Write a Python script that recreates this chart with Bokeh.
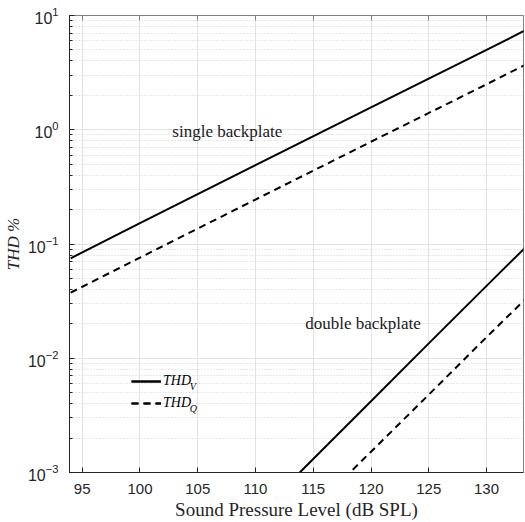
from bokeh.plotting import figure
from bokeh.models import (Range1d, LinearAxis, Legend, LegendItem, Label,
                          FixedTicker, LogTicker, CustomJSTickFormatter)
from bokeh.embed import file_html
from bokeh.resources import INLINE

# ---- data ----
spl_single = [94, 100, 110, 120, 130, 134]
thd_v_single = [0.075, 0.152, 0.49, 1.57, 5.0, 8.0]
thd_q_single = [0.0375, 0.076, 0.245, 0.785, 2.5, 4.0]

spl_double_v = [110, 114, 120, 125, 130, 134]
thd_v_double = [0.00042, 0.00104, 0.0042, 0.0135, 0.043, 0.108]
spl_double_q = [114, 118, 120, 125, 130, 134]
thd_q_double = [0.00038, 0.00096, 0.00152, 0.0048, 0.0153, 0.038]

x_ticks = [95, 100, 105, 110, 115, 120, 125, 130]
x_label = "Sound Pressure Level (dB SPL)"
y_label = "THD %"
legend_labels = ["THD", "THD"]
legend_subs = ["V", "Q"]
ann_single = "single backplate"
ann_double = "double backplate"

SERIF = "Liberation Serif"
SANS = "Liberation Sans"
AX = "#262626"
GRID = "#e3e3e3"

p = figure(width=524, height=522, output_backend="svg", toolbar_location=None,
           y_axis_type="log",
           x_range=Range1d(93.9, 133.2), y_range=Range1d(1e-3, 10),
           min_border_left=68, min_border_right=1, min_border_top=15,
           min_border_bottom=48)
p.background_fill_color = "white"
p.outline_line_color = "#808080"
p.outline_line_width = 1

# axes
xa = p.xaxis[0]
xa.ticker = FixedTicker(ticks=x_ticks)
xa.axis_label = x_label
xa.axis_label_text_font = SERIF
xa.axis_label_text_font_style = "normal"
xa.axis_label_text_font_size = "19px"
xa.axis_label_text_color = AX
xa.axis_label_standoff = 2
xa.major_label_text_font = SANS
xa.major_label_text_font_size = "15px"
xa.major_label_text_color = AX
xa.major_label_standoff = 11
xa.major_tick_in = 5
xa.major_tick_out = 0
xa.minor_tick_in = 0
xa.minor_tick_out = 0
xa.axis_line_color = AX
xa.major_tick_line_color = AX

ya = p.yaxis[0]
ya.ticker = LogTicker(desired_num_ticks=5, num_minor_ticks=10)
ya.axis_label = y_label
ya.axis_label_text_font = SERIF
ya.axis_label_text_font_style = "italic"
ya.axis_label_text_font_size = "17px"
ya.axis_label_text_color = AX
ya.axis_label_standoff = 2
ya.major_label_text_font = SANS
ya.major_label_text_font_size = "16px"
ya.major_label_text_color = AX
ya.major_label_standoff = 11
ya.major_tick_in = 5
ya.major_tick_out = 0
ya.minor_tick_in = 3
ya.minor_tick_out = 0
ya.axis_line_color = AX
ya.major_tick_line_color = AX
ya.minor_tick_line_color = AX

top = LinearAxis(ticker=FixedTicker(ticks=x_ticks),
                 formatter=CustomJSTickFormatter(code="return ''"),
                 major_label_standoff=0, major_tick_in=5, major_tick_out=0,
                 minor_tick_in=0, minor_tick_out=0, axis_line_color="#808080",
                 major_tick_line_color="#808080")
p.add_layout(top, "above")

# grid
p.xgrid.ticker = FixedTicker(ticks=x_ticks)
p.xgrid.grid_line_color = GRID
p.ygrid.grid_line_color = GRID
p.ygrid.minor_grid_line_color = "#d0d0d0"
p.ygrid.minor_grid_line_dash = "1 2"
p.ygrid.minor_grid_line_width = 1

# lines
r1 = p.line(spl_single, thd_v_single, line_color="black", line_width=2)
r2 = p.line(spl_single, thd_q_single, line_color="black", line_width=2, line_dash="7 5")
r3 = p.line(spl_double_v, thd_v_double, line_color="black", line_width=2)
r4 = p.line(spl_double_q, thd_q_double, line_color="black", line_width=2, line_dash="7 5")

legend = Legend(items=[LegendItem(label=legend_labels[0], renderers=[r1, r3]),
                       LegendItem(label=legend_labels[1], renderers=[r2, r4])],
                location=(62, 59), glyph_width=30, glyph_height=20, label_height=20,
                spacing=2, padding=0, margin=0, label_standoff=2,
                border_line_color=None, background_fill_alpha=0,
                label_text_font=SERIF, label_text_font_style="italic",
                label_text_font_size="14px", label_text_color="black")
p.add_layout(legend, "center")

for sub, yv in zip(legend_subs, [0.0057, 0.00365]):
    p.add_layout(Label(x=104.3, y=yv, text=sub, text_font=SERIF, text_font_style="italic",
                       text_font_size="10px", text_baseline="middle", text_color="black"))

p.add_layout(Label(x=102.8, y=0.96, text=ann_single, text_font=SERIF,
                   text_font_size="17px", text_baseline="middle", text_color="#1a1a1a"))
p.add_layout(Label(x=114.3, y=0.0202, text=ann_double, text_font=SERIF,
                   text_font_size="17px", text_baseline="middle", text_color="#1a1a1a"))

open("out.html", "w").write(file_html(p, INLINE))
